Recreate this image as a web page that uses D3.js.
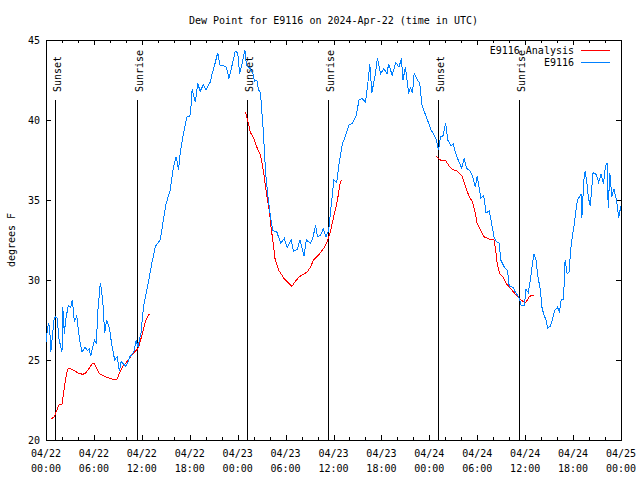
<!DOCTYPE html>
<html><head><meta charset="utf-8">
<script src="https://cdn.jsdelivr.net/npm/d3@7"></script>
<style>body{margin:0;background:#fff}svg{display:block}</style>
</head><body><svg id="c" width="640" height="480"></svg>
<script>
// ---- data (hours since 2024-04-22 00:00 UTC, degrees F) ----
const stationHours = [0.0,0.2,0.35,0.5,0.6,0.8,1.0,1.17,1.4,1.6,1.85,2.0,2.1,2.3,2.45,2.8,3.1,3.3,3.55,3.85,4.2,4.5,4.9,5.2,5.4,5.6,5.85,6.06,6.3,6.5,6.8,6.9,7.1,7.35,7.6,7.95,8.2,8.6,8.9,9.2,9.4,9.6,10.0,10.3,10.5,11.0,11.3,11.5,11.9,12.2,12.8,13.25,13.7,14.3,14.7,15.05,15.55,15.97,16.3,16.6,16.8,17.15,17.4,17.65,18.0,18.15,18.3,18.7,19.0,19.3,19.7,20.05,20.6,20.8,21.1,21.5,21.8,22.2,22.6,22.9,23.2,23.7,24.0,24.25,24.5,24.9,25.1,25.6,25.9,26.1,26.4,26.6,26.85,27.2,27.5,27.8,28.1,28.4,28.9,29.4,29.85,30.2,30.7,31.0,31.45,31.8,32.3,32.6,33.1,33.4,33.75,34.0,34.4,34.7,35.05,35.4,35.7,36.05,36.4,36.7,37.1,37.5,37.95,38.35,38.8,39.2,39.6,40.0,40.3,40.55,40.8,41.25,41.5,41.9,42.3,42.7,42.9,43.35,43.8,44.2,44.5,44.7,45.0,45.4,45.65,45.9,46.1,46.5,46.8,47.05,47.3,47.7,48.2,48.6,48.9,49.15,49.4,49.7,50.05,50.3,50.7,51.0,51.3,51.7,52.05,52.35,52.65,53.1,53.4,53.75,54.0,54.45,54.8,55.1,55.5,55.85,56.1,56.4,56.75,56.95,57.4,57.8,58.0,58.5,58.8,59.2,59.5,59.9,60.1,60.4,60.7,60.9,61.1,61.35,61.6,61.9,62.1,62.3,62.6,62.8,63.15,63.4,63.7,64.05,64.3,64.5,64.8,65.0,65.25,65.5,65.7,65.9,66.1,66.35,66.55,66.8,67.0,67.1,67.35,67.5,67.75,67.9,68.15,68.5,68.9,69.2,69.5,69.8,70.05,70.25,70.4,70.6,70.85,71.1,71.45,71.7,71.9,72.0];
const stationValues = [26.1,27.0,27.3,26.6,25.5,26.5,27.5,27.7,27.6,26.4,25.8,25.5,28.3,26.6,27.5,28.4,28.3,28.75,27.4,27.75,26.25,25.5,25.8,25.6,25.7,25.25,25.8,26.25,26.0,28.1,29.8,29.5,28.75,26.7,27.5,27.0,26.06,25.0,25.2,24.3,24.9,24.8,24.6,24.9,25.2,25.5,26.25,25.8,26.7,28.3,29.8,31.05,32.1,32.5,33.75,34.8,35.6,37.1,37.7,36.9,37.9,39.0,39.6,40.2,40.2,40.8,41.9,41.1,42.3,41.8,42.2,41.9,42.4,42.9,43.4,44.2,43.4,43.4,43.3,42.6,43.2,44.3,44.2,42.9,43.4,44.4,43.4,43.2,42.9,42.4,42.5,41.9,41.7,39.4,36.7,35.2,34.0,33.1,33.0,32.3,32.6,32.0,32.5,31.8,31.9,32.5,31.5,32.5,32.3,32.6,33.4,32.7,32.8,33.2,32.7,33.1,34.6,36.25,36.1,37.3,38.5,39.0,39.7,39.8,40.2,41.25,41.35,41.1,42.3,43.5,41.7,42.9,43.85,42.9,43.2,42.9,43.5,42.8,43.6,43.3,43.85,42.5,43.3,41.7,42.0,41.7,42.9,42.5,42.3,41.0,40.6,40.1,39.4,39.06,38.75,38.1,39.0,39.0,39.8,38.75,38.4,38.5,37.9,37.4,37.0,37.6,37.0,36.8,36.5,35.8,36.5,35.1,35.3,34.2,34.3,33.4,32.7,32.4,32.3,31.25,30.8,30.6,29.6,29.55,29.2,28.95,28.4,28.4,29.4,29.2,30.2,31.0,31.6,31.3,30.2,29.4,28.3,27.9,27.5,27.0,27.1,27.5,28.1,28.3,28.0,28.75,28.8,31.25,30.4,30.5,31.9,32.7,33.3,34.3,35.0,35.2,35.4,33.9,36.25,36.8,36.0,35.2,34.6,36.7,36.6,36.1,36.6,36.0,37.1,37.3,34.5,36.7,35.2,35.7,35.0,33.9,34.4,34.6];

// analysis runs; null marks a gap between runs
const analysisHours = [0.63,1.05,1.46,1.67,2.0,2.3,2.6,2.8,3.34,3.97,4.6,5.0,5.43,5.85,6.06,6.5,6.77,7.3,7.7,8.36,8.9,9.2,9.6,10.0,10.45,10.9,11.3,11.6,11.9,12.2,12.5,12.96,18,
  24.96,25.2,25.6,26.0,26.4,26.85,27.2,27.5,27.8,28.0,28.2,28.4,28.7,29.15,29.8,30.4,30.8,31.2,31.7,32.7,33.1,33.5,34.2,34.8,35.2,35.6,36.05,36.5,36.8,37.0,43,
  48.8,49.4,50.0,50.5,50.9,51.5,52.1,52.55,53.0,53.4,53.75,54.0,54.45,54.85,55.5,56.1,56.3,56.5,56.8,57.2,57.6,58.3,58.85,59.5,59.9,60.1,60.5,60.9,61.1];
const analysisValues = [21.3,21.46,22.0,22.25,22.25,23.3,24.2,24.5,24.4,24.2,24.1,24.2,24.5,24.8,24.75,24.3,24.1,24.0,23.9,23.8,23.8,24.2,24.6,24.8,25.1,25.4,25.6,25.8,26.35,26.9,27.5,27.9,null,
  40.5,40.1,39.2,38.9,38.3,37.8,36.9,35.8,34.8,34.2,33.2,32.5,31.25,30.6,30.1,29.8,29.6,29.9,30.2,30.5,30.8,31.25,31.6,32.0,32.4,33.0,34.0,35.0,36.0,36.25,null,
  37.75,37.5,37.5,37.1,36.9,36.8,36.5,35.8,35.2,34.9,34.2,33.5,33.1,32.7,32.55,32.5,31.9,31.05,30.4,30.2,29.8,29.4,29.06,28.75,28.6,28.6,28.95,29.06,29.06];

const sunHours = [1.16, 11.43, 25.13, 35.35, 49.12, 59.27];
const sunLabels = ["Sunset","Sunrise","Sunset","Sunrise","Sunset","Sunrise"];

const xMajorTicks = [0,6,12,18,24,30,36,42,48,54,60,66,72];
const xTickDates = ["04/22","04/22","04/22","04/22","04/23","04/23","04/23","04/23","04/24","04/24","04/24","04/24","04/25"];
const xTickTimes = ["00:00","06:00","12:00","18:00","00:00","06:00","12:00","18:00","00:00","06:00","12:00","18:00","00:00"];
const yTicks = [20,25,30,35,40,45];

const titleText = "Dew Point for E9116 on 2024-Apr-22 (time in UTC)";
const yLabel = "degrees F";
const seriesNames = ["E9116 Analysis", "E9116"];
const seriesColors = ["#ff0000", "#0080ff"];

// ---- drawing ----
const font = "'DejaVu Sans Mono', monospace";
const fs = 10;
const svg = d3.select("#c");
const L = 46, R = 621, T = 40, B = 440;
const x = d3.scaleLinear().domain([0, 72]).range([L, R]);
const y = d3.scaleLinear().domain([20, 45]).range([B, T]);

const xMinor = d3.range(0, 73, 2).filter(h => h % 6 !== 0);

function axisG(axis, tx, ty) {
  const g = svg.append("g").attr("transform", `translate(${tx},${ty})`).call(axis);
  g.select(".domain").remove();
  g.selectAll("line").attr("stroke", "#000").attr("shape-rendering", "crispEdges");
  g.selectAll("text").remove();
  return g;
}
axisG(d3.axisBottom(x).tickValues(xMajorTicks).tickSize(-5).tickFormat(""), 0, B);
axisG(d3.axisBottom(x).tickValues(xMinor).tickSize(-3).tickFormat(""), 0, B);
axisG(d3.axisTop(x).tickValues(xMajorTicks).tickSize(-5).tickFormat(""), 0, T);
axisG(d3.axisTop(x).tickValues(xMinor).tickSize(-3).tickFormat(""), 0, T);
axisG(d3.axisLeft(y).tickValues(yTicks).tickSize(-5).tickFormat(""), L, 0);
axisG(d3.axisRight(y).tickValues(yTicks).tickSize(-5).tickFormat(""), R, 0);

// frame
svg.append("rect").attr("x", L + 0.5).attr("y", T + 0.5).attr("width", R - L).attr("height", B - T)
  .attr("fill", "none").attr("stroke", "#000").attr("shape-rendering", "crispEdges");

// tick labels
const xl = svg.append("g").attr("font-family", font).attr("font-size", fs).attr("text-anchor", "middle");
xMajorTicks.forEach((h, i) => {
  xl.append("text").attr("x", x(h)).attr("y", 457).text(xTickDates[i]);
  xl.append("text").attr("x", x(h)).attr("y", 472).text(xTickTimes[i]);
});
svg.append("g").attr("font-family", font).attr("font-size", fs).attr("text-anchor", "end")
  .selectAll("text").data(yTicks).join("text")
  .attr("x", 40).attr("y", d => y(d) + 3.5).text(d => d);

// title, y label
svg.append("text").attr("x", (L + R) / 2).attr("y", 23.5).attr("text-anchor", "middle")
  .attr("font-family", font).attr("font-size", fs).text(titleText);
svg.append("text").attr("transform", "translate(15,240) rotate(-90)").attr("text-anchor", "middle")
  .attr("font-family", font).attr("font-size", fs).text(yLabel);

// sun lines
const sg = svg.append("g");
sunHours.forEach((h, i) => {
  const xp = Math.round(x(h)) + 0.5;
  sg.append("line").attr("x1", xp).attr("x2", xp).attr("y1", 100).attr("y2", B)
    .attr("stroke", "#000").attr("shape-rendering", "crispEdges");
  sg.append("text").attr("transform", `translate(${xp + 5},92) rotate(-90)`)
    .attr("font-family", font).attr("font-size", fs).text(sunLabels[i]);
});

// series
const station = stationHours.map((h, i) => ({h, v: stationValues[i]}));
const analysis = analysisHours.map((h, i) => ({h, v: analysisValues[i]}));
const line = d3.line().defined(d => d.v != null).x(d => x(d.h)).y(d => y(d.v));
svg.append("path").datum(analysis).attr("d", line).attr("fill", "none")
  .attr("stroke", seriesColors[0]).attr("stroke-width", 1).attr("shape-rendering", "crispEdges");
svg.append("path").datum(station).attr("d", line).attr("fill", "none")
  .attr("stroke", seriesColors[1]).attr("stroke-width", 1).attr("shape-rendering", "crispEdges");

// legend
const lg = svg.append("g").attr("font-family", font).attr("font-size", fs);
seriesNames.forEach((n, i) => {
  const yy = 50 + i * 12;
  lg.append("text").attr("x", 574).attr("y", yy + 3.5).attr("text-anchor", "end").text(n);
  lg.append("line").attr("x1", 581).attr("x2", 610).attr("y1", yy + 0.5).attr("y2", yy + 0.5)
    .attr("stroke", seriesColors[i]).attr("stroke-width", 1).attr("shape-rendering", "crispEdges");
});
</script>
</body></html>
